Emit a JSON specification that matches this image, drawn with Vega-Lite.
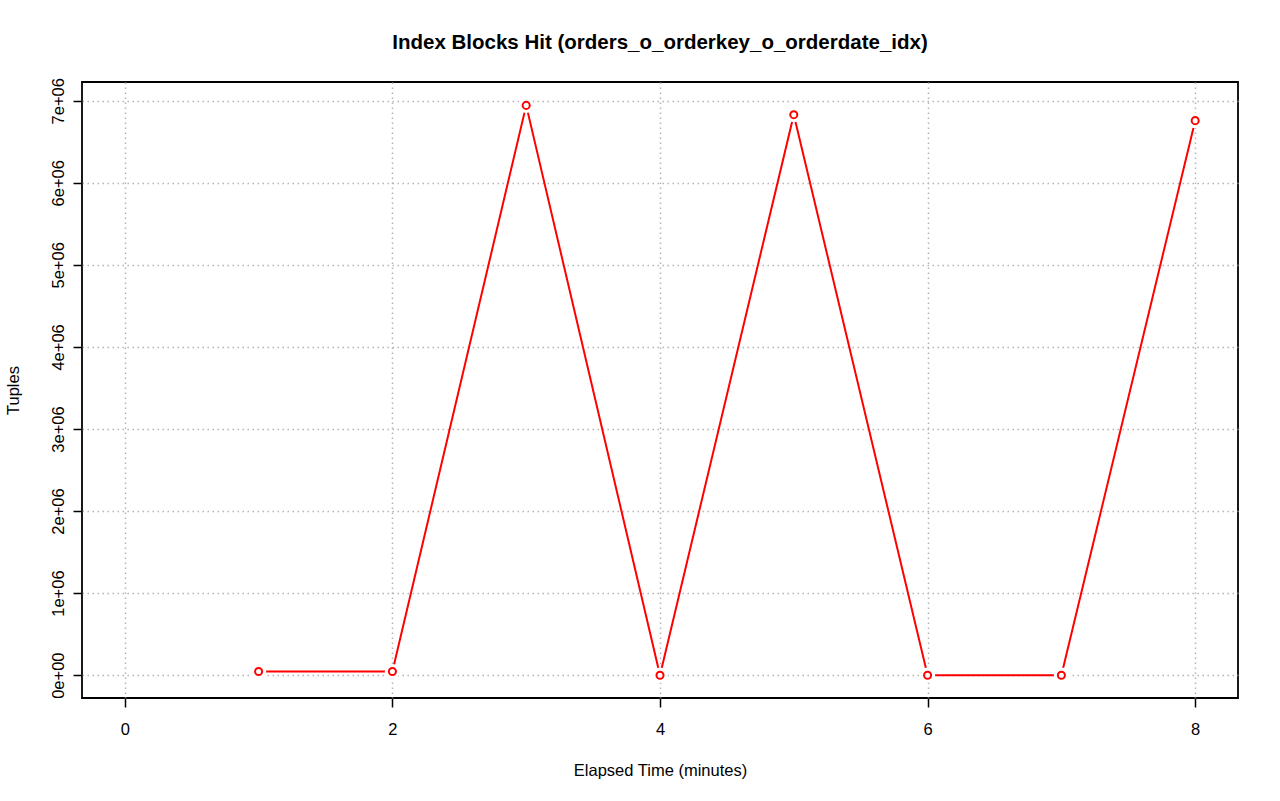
{
  "$schema": "https://vega.github.io/schema/vega-lite/v6.json",
  "width": 1156,
  "height": 616,
  "autosize": "none",
  "padding": {"left": 82, "top": 82, "right": 42, "bottom": 103},
  "background": "white",
  "title": {
    "text": "Index Blocks Hit (orders_o_orderkey_o_orderdate_idx)",
    "font": "Liberation Sans",
    "fontSize": 20.5,
    "fontWeight": "bold",
    "color": "black",
    "anchor": "middle",
    "offset": 24
  },
  "config": {
    "view": {"stroke": "black", "strokeWidth": 1.8},
    "axis": {
      "labelFont": "Liberation Sans",
      "titleFont": "Liberation Sans",
      "labelFontSize": 16.5,
      "titleFontSize": 16.5,
      "titleFontWeight": "normal",
      "labelColor": "black",
      "titleColor": "black",
      "tickColor": "black",
      "tickWidth": 1.5,
      "tickSize": 9,
      "domain": false,
      "grid": true,
      "gridColor": "#b4b4b4",
      "gridDash": [1.5, 3.5],
      "gridWidth": 1.5,
      "zindex": 1
    }
  },
  "data": {
    "values": [
      {"t": 1, "v": 45000},
      {"t": 2, "v": 45000},
      {"t": 3, "v": 6943000},
      {"t": 4, "v": 0},
      {"t": 5, "v": 6830000},
      {"t": 6, "v": 0},
      {"t": 7, "v": 0},
      {"t": 8, "v": 6757000}
    ]
  },
  "encoding": {
    "x": {
      "field": "t",
      "type": "quantitative",
      "scale": {"domain": [-0.32, 8.32], "nice": false, "zero": false},
      "axis": {
        "values": [0, 2, 4, 6, 8],
        "title": "Elapsed Time (minutes)",
        "labelPadding": 14,
        "titlePadding": 25
      }
    },
    "y": {
      "field": "v",
      "type": "quantitative",
      "scale": {"domain": [-278000, 7228000], "nice": false, "zero": false},
      "axis": {
        "values": [0, 1000000, 2000000, 3000000, 4000000, 5000000, 6000000, 7000000],
        "labelExpr": "datum.value == 0 ? '0e+00' : format(datum.value / 1000000, 'd') + 'e+06'",
        "labelAngle": 270,
        "labelAlign": "center",
        "labelBaseline": "bottom",
        "labelPadding": 7,
        "title": "Tuples",
        "titlePadding": 29
      }
    }
  },
  "layer": [
    {"mark": {"type": "line", "color": "red", "strokeWidth": 2}},
    {"mark": {"type": "point", "shape": "circle", "filled": true, "fill": "white", "stroke": null, "size": 230, "opacity": 1}},
    {"mark": {"type": "point", "shape": "circle", "filled": false, "color": "red", "strokeWidth": 2, "size": 50, "opacity": 1}}
  ]
}
